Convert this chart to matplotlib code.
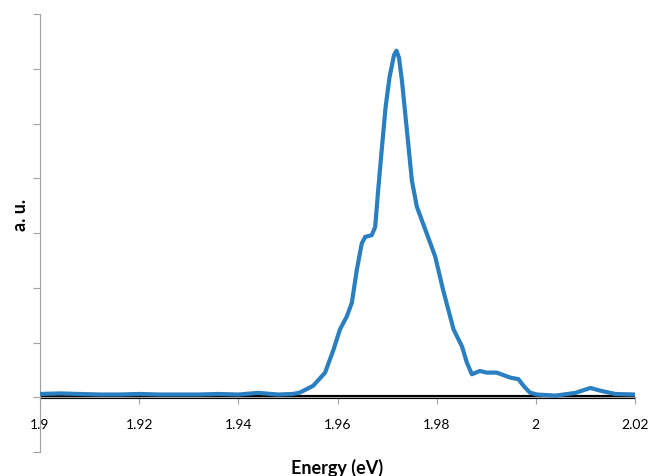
import matplotlib
matplotlib.use("Agg")
import matplotlib.pyplot as plt

# spectrum (energy in eV, intensity in arbitrary units)
energy = [1.900, 1.904, 1.908, 1.912, 1.916, 1.920, 1.924, 1.928, 1.932, 1.936,
          1.940, 1.944, 1.948, 1.951, 1.9524, 1.9551, 1.9575, 1.9592, 1.9605, 1.9619,
          1.9629, 1.9639, 1.9649, 1.9656, 1.9669, 1.9676, 1.9682, 1.9689, 1.9697, 1.9705,
          1.9714, 1.9719, 1.9724, 1.9730, 1.9740, 1.9750, 1.9760, 1.9780, 1.9797, 1.9813,
          1.9834, 1.9851, 1.9861, 1.9871, 1.9887, 1.9901, 1.9921, 1.9948, 1.9965, 1.9975,
          1.9988, 2.0002, 2.004, 2.008, 2.011, 2.013, 2.016, 2.020]
intensity = [0.06, 0.07, 0.06, 0.05, 0.05, 0.06, 0.05, 0.05, 0.05, 0.06,
             0.05, 0.08, 0.05, 0.06, 0.085, 0.21, 0.45, 0.87, 1.24, 1.48,
             1.73, 2.33, 2.81, 2.93, 2.96, 3.11, 3.78, 4.5, 5.3, 5.85,
             6.25, 6.33, 6.2, 5.78, 4.87, 3.96, 3.48, 2.99, 2.57, 1.96,
             1.24, 0.93, 0.63, 0.42, 0.48, 0.45, 0.45, 0.36, 0.33, 0.21,
             0.085, 0.05, 0.03, 0.08, 0.17, 0.12, 0.06, 0.05]

# flat reference series
ref_energy = [1.900, 2.020]
ref_intensity = [0.0, 0.0]

xticks = [1.9, 1.92, 1.94, 1.96, 1.98, 2.0, 2.02]
xlabels = ["1.9", "1.92", "1.94", "1.96", "1.98", "2", "2.02"]

plt.rcParams['font.family'] = ['Lato', 'DejaVu Sans']

fig = plt.figure(figsize=(6.54, 4.77), dpi=100)
ax = fig.add_axes([40/654, 24/477, 595/654, 438/477])

ax.plot(ref_energy, ref_intensity, color='black', lw=3.0, zorder=2)
ax.plot(energy, intensity, color='#2a7fc1', lw=3.0, zorder=3,
        solid_joinstyle='round', solid_capstyle='round')

ax.set_xlim(1.9, 2.02)
ax.set_ylim(-1, 7)
ax.set_xticks(xticks)
ax.set_xticklabels(xlabels, fontsize=14.5)
ax.set_yticks(range(-1, 8))
ax.set_yticklabels([])

for s in ['top', 'right']:
    ax.spines[s].set_visible(False)
ax.spines['bottom'].set_position(('data', 0))
ax.spines['bottom'].set_color('#a0a0a0')
ax.spines['left'].set_color('#a0a0a0')
ax.tick_params(axis='both', colors='#a0a0a0', length=5, direction='out')
ax.tick_params(axis='x', labelcolor='black', pad=10)

fig.text(20/654, 1 - 215/477, "a. u.", rotation=90, fontsize=13, fontweight='bold',
         ha='center', va='center')
fig.text(337/654, 1 - 468/477, "Energy (eV)", fontsize=13, fontweight='bold',
         ha='center', va='center')

fig.savefig("out.png", dpi=100)
